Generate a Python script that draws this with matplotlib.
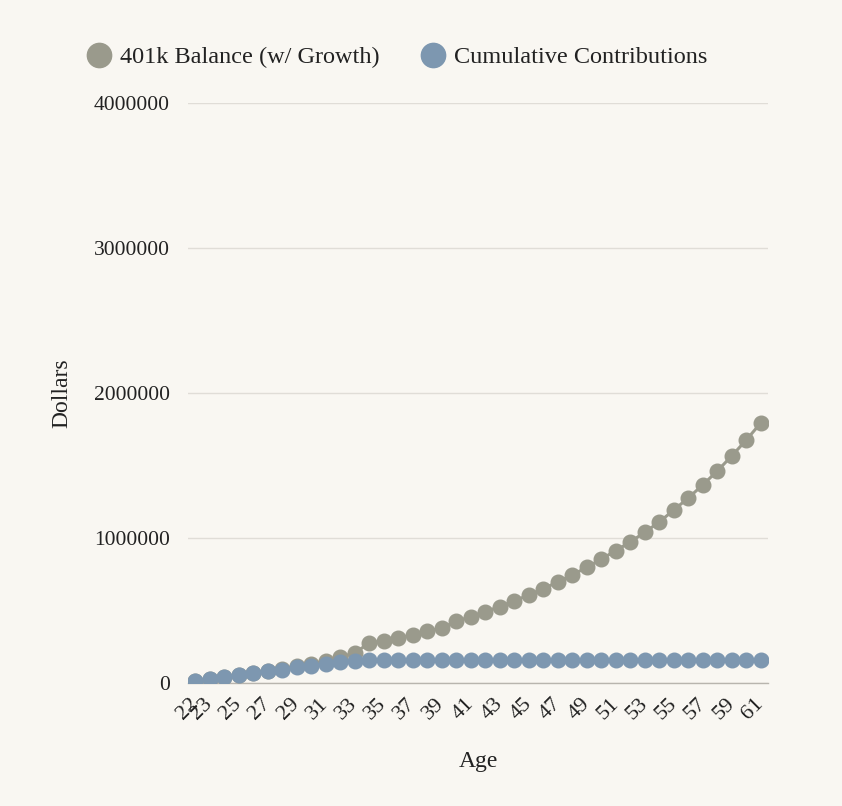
import matplotlib
matplotlib.use("Agg")
import matplotlib.pyplot as plt
from matplotlib.lines import Line2D

ages = list(range(22, 62))
balance = [13000, 27000, 41000, 55000, 70000, 85000, 100000, 116000, 133000, 153000,
           179000, 207000, 276000, 291000, 310000, 333000, 356000, 380000, 425000, 458000,
           492000, 527000, 566000, 607000, 650000, 697000, 745000, 798000, 854000, 913000,
           972000, 1040000, 1110000, 1193000, 1276000, 1366000, 1462000, 1566000, 1676000, 1793000]
contrib = [13000, 27000, 40000, 53000, 67000, 80000, 93000, 107000, 120000, 133000,
           147000, 155000] + [160000] * 28
y_ticks = [0, 1000000, 2000000, 3000000, 4000000]
x_tick_ages = [22] + list(range(23, 62, 2))

BG = "#f9f7f2"
GRAY = "#9a9a8c"
BLUE = "#7d97b0"
FONT = ["Liberation Serif", "DejaVu Serif"]

plt.rcParams["font.family"] = FONT

fig = plt.figure(figsize=(8.42, 8.06), dpi=100, facecolor=BG)
ax = fig.add_axes([188/842, (806-683)/806, 580/842, 580/806], facecolor=BG)

ax.plot(ages, balance, color=GRAY, lw=2.2, marker="o", ms=10.5, mec=GRAY, mfc=GRAY, zorder=3)
ax.plot(ages, contrib, color=BLUE, lw=2.2, marker="o", ms=10.5, mec=BLUE, mfc=BLUE, zorder=4)

ax.set_xlim(21.5, 61.5)
ax.set_ylim(0, 4000000)
ax.set_yticks(y_ticks)
ax.set_yticklabels([str(v) for v in y_ticks])
ax.set_xticks(x_tick_ages)
ax.set_xticklabels([str(a) for a in x_tick_ages], rotation=45, ha="right",
                   va="center", rotation_mode="anchor")

for s in ["top", "right", "left"]:
    ax.spines[s].set_visible(False)
ax.spines["bottom"].set_color("#b8b5ae")
ax.spines["bottom"].set_linewidth(1)
ax.grid(axis="y", color="#e0ddd7", lw=1)
ax.set_axisbelow(True)
ax.tick_params(axis="both", length=0, colors="#222222")
ax.tick_params(axis="y", pad=13, labelsize=15.5)
ax.tick_params(axis="x", pad=13, labelsize=16)

ax.set_xlabel("Age", fontsize=17, color="#222222")
ax.xaxis.set_label_coords(0.5, (683-762)/580)
ax.xaxis.label.set_va("center")
ax.set_ylabel("Dollars", fontsize=17, color="#222222")
ax.yaxis.set_label_coords((62-188)/580, 0.5)
ax.yaxis.label.set_va("center")

handles = [Line2D([], [], ls="none", marker="o", ms=17.5, color=GRAY),
           Line2D([], [], ls="none", marker="o", ms=17.5, color=BLUE)]
leg = fig.legend(handles, ["401k Balance (w/ Growth)", "Cumulative Contributions"],
                 loc="center", bbox_to_anchor=(396/842, 1-57/806), ncol=2,
                 frameon=False, fontsize=17.5, handletextpad=0.25, columnspacing=1.6,
                 handlelength=1.2)
for t in leg.get_texts():
    t.set_color("#222222")

fig.savefig("out.png", dpi=100, facecolor=BG)
